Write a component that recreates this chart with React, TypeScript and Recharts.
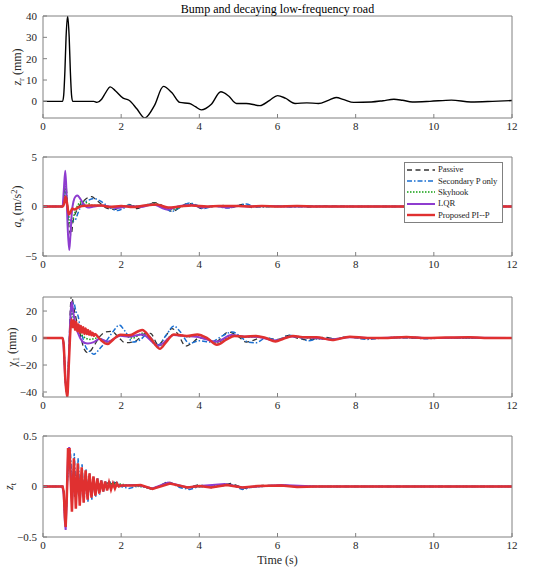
import React from 'react';
import { LineChart, Line, XAxis, YAxis, Legend } from 'recharts';

type Pair = [number, number];

const timeTicks = [0, 2, 4, 6, 8, 10, 12];
const chartTitle = 'Bump and decaying low-frequency road';
const seriesNames = ['Passive', 'Secondary P only', 'Skyhook', 'LQR', 'Proposed PI--P'];

// road input z_r (mm)
const roadProfile: Pair[] = [
  [0, 0], [0.5, 0], [0.53, 3], [0.56, 14], [0.59, 30], [0.63, 40], [0.67, 30], [0.7, 14], [0.73, 3], [0.76, 0],
  [1.3, 0], [1.38, -0.5], [1.5, 1], [1.6, 4], [1.72, 6.8], [1.85, 5], [2.05, 1.5], [2.2, 0.5], [2.4, -3.5],
  [2.6, -7.8], [2.85, -2], [3.08, 7], [3.3, 4], [3.5, -0.5], [3.75, -1], [3.9, -2.5], [4.05, -4], [4.3, -1.5],
  [4.55, 4.5], [4.75, 2.5], [4.95, -1], [5.2, -1], [5.55, -2], [5.8, 0.5], [6.0, 2.7], [6.2, 1.5], [6.45, -1],
  [6.75, -0.7], [7.05, -1], [7.3, 0.5], [7.5, 1.8], [7.7, 0.8], [7.95, -0.5], [8.4, -0.3], [8.7, 0.3], [8.98, 1],
  [9.2, 0.5], [9.45, -0.3], [9.9, 0], [10.45, 0.6], [10.95, -0.3], [11.5, 0], [12, 0.4],
];

// body acceleration a_s (m/s^2)
const accPassive: Pair[] = [
  [0, 0], [0.5, 0], [0.54, 1.2], [0.58, 2.5], [0.62, 0.5], [0.67, -2.2], [0.72, -2.9], [0.77, -1.5], [0.85, -0.5],
  [0.95, 0.2], [1.05, 0.6], [1.15, 0.9], [1.25, 1.0], [1.35, 0.7], [1.5, 0.2], [1.65, -0.2], [1.8, -0.3], [2.0, -0.1],
  [2.2, 0.2], [2.4, -0.2], [2.6, 0.1], [2.85, 0.4], [3.05, 0.1], [3.3, -0.5], [3.5, -0.1], [3.7, 0.3], [3.9, 0.1],
  [4.05, -0.2], [4.3, 0.05], [4.6, 0.1], [4.8, -0.1], [5.1, 0.2], [5.35, -0.1], [5.6, 0.05], [6.0, 0], [6.4, 0.05],
  [6.8, -0.05], [7.2, 0.05], [8, 0], [12, 0],
];
const accSecondary: Pair[] = [
  [0, 0], [0.5, 0], [0.54, 0.8], [0.58, 1.5], [0.62, 0.3], [0.67, -1.2], [0.75, -1.5], [0.82, -1.4], [0.9, -0.6],
  [1.0, 0.2], [1.15, 0.6], [1.3, 0.8], [1.45, 0.6], [1.6, 0.2], [1.75, -0.2], [1.9, -0.4], [2.05, -0.2], [2.2, 0.15],
  [2.4, 0], [2.6, 0.1], [2.85, 0.3], [3.1, -0.1], [3.3, -0.5], [3.5, -0.1], [3.75, 0.35], [3.95, 0.1], [4.1, -0.2],
  [4.4, 0.05], [4.7, -0.15], [5.0, 0.1], [5.2, 0.25], [5.4, 0], [5.7, -0.05], [6.0, 0.05], [6.4, -0.05], [6.8, 0.05],
  [7.5, 0], [12, 0],
];
const accSkyhook: Pair[] = [
  [0, 0], [0.5, 0], [0.54, 1.0], [0.58, 2.0], [0.62, 0.3], [0.67, -1.5], [0.72, -1.8], [0.8, -0.8], [0.9, 0.2],
  [1.0, 0.5], [1.1, 0.4], [1.3, 0.1], [1.5, 0.1], [1.8, -0.1], [2.2, 0.1], [2.5, 0], [2.85, 0.3], [3.3, -0.3],
  [3.75, 0.2], [4.1, -0.1], [4.5, 0.05], [5.0, 0.05], [5.5, 0], [12, 0],
];
const accLqr: Pair[] = [
  [0, 0], [0.5, 0], [0.53, 1.5], [0.57, 3.6], [0.6, 1.5], [0.63, -2], [0.67, -4.4], [0.7, -3], [0.74, -0.5],
  [0.78, 0.5], [0.83, 1.0], [0.88, 1.1], [0.95, 0.8], [1.05, 0.2], [1.15, -0.1], [1.3, 0], [1.5, 0.1], [1.7, 0],
  [1.9, -0.15], [2.2, 0.05], [2.5, -0.05], [2.8, 0.2], [3.2, -0.3], [3.5, 0.05], [3.8, 0.15], [4.1, -0.1],
  [4.4, 0.05], [4.7, -0.1], [5.0, 0.05], [5.3, 0], [5.7, 0.05], [6.2, 0], [7, 0], [12, 0],
];
const accProposed: Pair[] = [
  [0, 0], [0.5, 0], [0.54, 0.3], [0.58, 1.0], [0.62, 0.2], [0.66, -0.8], [0.7, -0.6], [0.75, -0.2], [0.8, -0.3],
  [0.9, -0.1], [1.0, 0.05], [1.2, 0.1], [1.5, 0.1], [1.7, -0.05], [2.0, 0.05], [2.3, -0.05], [2.6, 0.1], [2.9, 0.2],
  [3.2, -0.1], [3.5, 0], [3.8, 0.1], [4.2, 0], [4.5, 0.05], [5.0, 0.05], [5.3, 0], [5.6, 0.05], [6, 0], [6.5, 0.05],
  [7, 0], [12, 0],
];

// displacement x_1 (mm)
const dispPassive: Pair[] = [
  [0, 0], [0.5, 0], [0.53, -5], [0.57, -30], [0.62, -41], [0.66, -12], [0.7, 22], [0.73, 32], [0.78, 24], [0.85, 14],
  [0.95, 3], [1.05, -8], [1.15, -11], [1.3, -6], [1.45, 1], [1.6, 4.5], [1.75, 5], [1.95, 0], [2.1, -3.5],
  [2.35, -2.5], [2.6, 3], [2.75, 3.5], [2.95, -5], [3.15, 2], [3.3, 7], [3.45, 3], [3.65, -6], [3.8, -4], [4.0, 0],
  [4.2, -1], [4.4, -3], [4.75, 4.5], [5.0, 1], [5.2, -3], [5.4, -1.5], [5.6, 0.5], [6.0, -1], [6.3, 2], [6.5, 0],
  [6.8, -1.5], [7.2, 0.5], [7.5, -0.5], [7.8, 0.8], [8.2, -0.5], [8.5, 0], [9, 0.3], [9.6, -0.2], [10.5, 0.1], [12, 0],
];
const dispSecondary: Pair[] = [
  [0, 0], [0.5, 0], [0.53, -5], [0.57, -30], [0.62, -41], [0.66, -15], [0.71, 12], [0.76, 24], [0.79, 26], [0.84, 20],
  [0.9, 16], [0.95, 8], [1.02, 0], [1.1, -7], [1.2, -10], [1.3, -12], [1.45, -8], [1.6, -3], [1.8, 5], [1.95, 9.6],
  [2.1, 5], [2.3, -3], [2.5, -1], [2.65, 2.5], [2.95, -5], [3.15, 2], [3.35, 9], [3.5, 5], [3.75, -4], [4.0, -2],
  [4.3, -3], [4.55, 1], [4.85, 4.5], [5.05, 1], [5.25, -3], [5.45, -3.5], [5.7, 0], [6.0, -1.5], [6.3, 2], [6.55, 0.5],
  [6.8, -2], [7.1, 0], [7.5, -0.5], [7.8, 1], [8.3, -1], [8.7, 0], [9.3, 0.3], [9.8, -0.5], [10.3, 0], [12, 0],
];
const dispSkyhook: Pair[] = [
  [0, 0], [0.5, 0], [0.53, -5], [0.57, -30], [0.62, -42], [0.66, -15], [0.7, 12], [0.73, 22], [0.78, 14], [0.85, 8],
  [1.0, 2], [1.2, -1], [1.4, 0], [1.65, -3], [2.0, 2.5], [2.3, 0], [2.55, 3.5], [2.95, -6], [3.35, 2.5], [3.7, 1],
  [4.0, 2], [4.45, -3.5], [4.85, 2], [5.2, 0.5], [5.5, 1], [5.95, -2], [6.35, 1.5], [6.8, 0], [7.4, -1], [7.85, 0.8],
  [8.3, 0], [9.3, 0.5], [10, 0], [12, 0],
];
const dispLqr: Pair[] = [
  [0, 0], [0.5, 0], [0.52, -3], [0.57, -30], [0.62, -42], [0.66, -15], [0.7, 15], [0.73, 27], [0.78, 18], [0.85, 8],
  [0.95, 0], [1.05, -3.5], [1.15, -4], [1.3, -3], [1.45, -0.5], [1.65, -2.7], [1.98, 1.7], [2.2, 1], [2.54, 2.7],
  [2.95, -5.7], [3.35, 2.2], [3.6, 1.5], [3.92, 1], [4.45, -2.7], [4.82, 2.2], [5.2, 1], [5.5, 0.8], [5.95, -1.8],
  [6.35, 1.2], [6.8, 0.3], [7.4, -1], [7.85, 0.6], [8.3, 0], [9.3, 0.5], [10, 0], [10.9, 0.3], [12, 0],
];
const dispProposed: Pair[] = [
  [0, 0], [0.5, 0], [0.53, -5], [0.57, -30], [0.62, -44], [0.66, -20], [0.7, 5], [0.73, 14], [0.76, 8], [0.79, 13],
  [0.82, 6], [0.85, 12], [0.88, 5], [0.91, 10], [0.94, 4], [0.97, 9], [1.0, 4], [1.03, 8], [1.06, 3], [1.09, 7],
  [1.12, 3], [1.15, 6], [1.18, 2.5], [1.21, 5], [1.24, 2], [1.27, 4], [1.3, 1.5], [1.33, 3], [1.4, 1], [1.5, -2],
  [1.65, -4.5], [1.8, -1], [1.98, 2.5], [2.2, 2], [2.54, 6], [2.75, 0], [2.99, -8], [3.15, -3], [3.35, 2.7],
  [3.68, 1.5], [3.95, 2.7], [4.2, 0], [4.45, -5], [4.7, -1], [4.9, 1.5], [5.15, 1], [5.45, 1.5], [5.7, 0],
  [5.95, -2.5], [6.15, -0.5], [6.4, 1.5], [6.7, 0.5], [7.0, 0.6], [7.4, -1.5], [7.85, 1], [8.3, 0], [8.7, 0],
  [9.3, 0.8], [9.8, 0], [10.3, 0.3], [10.9, 0.5], [11.5, 0], [12, 0],
];

// tyre deflection z_t
const tyrePassive: Pair[] = [
  [0, 0], [0.5, 0], [0.53, -0.05], [0.56, -0.3], [0.58, -0.38], [0.61, -0.1], [0.65, 0.3], [0.69, 0.3], [0.72, 0],
  [0.76, 0.1], [0.81, -0.1], [0.86, 0.12], [0.91, -0.08], [0.96, 0.08], [1.01, -0.05], [1.1, 0.05], [1.2, -0.02],
  [1.4, 0.02], [1.6, 0.03], [1.8, 0.05], [2.0, 0], [2.4, 0.02], [2.8, -0.03], [3.2, 0.05], [3.6, -0.02], [4.0, 0.02],
  [4.3, -0.01], [4.8, 0.03], [5.2, -0.02], [5.6, 0.01], [6.2, 0.01], [7, 0], [12, 0],
];
const tyreSecondary: Pair[] = [
  [0, 0], [0.5, 0], [0.53, -0.05], [0.56, -0.3], [0.58, -0.38], [0.61, -0.1], [0.65, 0.3], [0.7, 0.36], [0.75, -0.05],
  [0.8, 0.33], [0.85, -0.12], [0.9, 0.28], [0.95, -0.15], [1.0, 0.22], [1.05, -0.16], [1.1, 0.17], [1.15, -0.15],
  [1.2, 0.13], [1.25, -0.13], [1.3, 0.1], [1.35, -0.1], [1.4, 0.08], [1.45, -0.08], [1.5, 0.06], [1.55, -0.05],
  [1.6, 0.05], [1.65, -0.03], [1.7, 0.06], [1.75, 0], [1.8, 0.05], [1.85, 0.01], [1.9, 0.04], [2.0, 0], [2.2, -0.02],
  [2.5, 0.01], [2.8, -0.02], [3.25, 0.04], [3.5, -0.01], [3.75, -0.03], [4.0, 0], [4.3, -0.01], [4.8, 0.02],
  [5.1, -0.03], [5.4, 0], [6.0, 0.01], [6.5, 0], [7, 0], [12, 0],
];
const tyreSkyhook: Pair[] = [
  [0, 0], [0.5, 0], [0.53, -0.05], [0.56, -0.3], [0.58, -0.39], [0.61, -0.1], [0.65, 0.33], [0.69, 0.33], [0.74, -0.1],
  [0.79, 0.2], [0.84, -0.12], [0.89, 0.13], [0.94, -0.08], [0.99, 0.08], [1.05, -0.04], [1.15, 0.04], [1.3, 0],
  [1.8, 0.03], [2.3, 0.01], [2.8, -0.02], [3.2, 0.035], [3.7, -0.01], [4.7, 0.02], [5.1, -0.01], [6.1, 0.01],
  [7, 0], [12, 0],
];
const tyreLqr: Pair[] = [
  [0, 0], [0.5, 0], [0.53, -0.08], [0.56, -0.35], [0.58, -0.43], [0.61, -0.1], [0.64, 0.3], [0.67, 0.39], [0.7, 0.2],
  [0.74, -0.15], [0.79, 0.12], [0.84, -0.08], [0.89, 0.08], [0.94, -0.05], [0.99, 0.04], [1.04, -0.02], [1.1, 0.01],
  [1.5, 0], [2.0, 0.01], [2.4, 0.015], [2.8, -0.02], [3.2, 0.04], [3.7, -0.01], [4.0, 0.005], [4.65, 0.025],
  [5.1, -0.01], [6.1, 0.015], [7, 0], [12, 0],
];
const tyreProposed: Pair[] = [
  [0, 0], [0.5, 0], [0.53, -0.05], [0.56, -0.3], [0.58, -0.4], [0.61, -0.1], [0.64, 0.37], [0.68, 0.37], [0.71, 0.05],
  [0.74, -0.25], [0.79, 0.28], [0.84, -0.22], [0.89, 0.23], [0.94, -0.19], [0.99, 0.19], [1.04, -0.16],
  [1.09, 0.16], [1.14, -0.13], [1.19, 0.13], [1.24, -0.11], [1.29, 0.1], [1.34, -0.09], [1.39, 0.08],
  [1.44, -0.07], [1.49, 0.06], [1.54, -0.05], [1.59, 0.05], [1.64, -0.04], [1.69, 0.04], [1.74, -0.03],
  [1.79, 0.03], [1.84, -0.02], [1.89, 0.03], [1.94, 0], [2.0, 0.01], [2.3, 0.01], [2.5, 0.015],
  [2.8, -0.025], [3.25, 0.03], [3.7, -0.01], [4.0, 0.005], [4.3, -0.01], [4.7, 0.015], [5.1, -0.01], [5.5, 0.005],
  [6.1, 0.01], [6.5, -0.005], [7, 0], [12, 0],
];

const lineStyles = [
  { color: '#333333', width: 1.3, dash: '5 3.5' },
  { color: '#1a6fd1', width: 1.5, dash: '5 2 1.5 2' },
  { color: '#10a010', width: 1.5, dash: '1.5 1.5' },
  { color: '#8e3ccf', width: 2, dash: undefined },
  { color: '#e03030', width: 2.5, dash: undefined },
];

const font = '"Liberation Serif", "Times New Roman", serif';
const boxColor = '#808080';
const textColor = '#262626';

const toPoints = (pairs: Pair[]) => pairs.map(([t, v]) => ({ t, v }));
const minus = (v: number) => String(v).replace('-', '\u2212');

const sub = (s: string) => [
  <tspan key="s" dy={3} fontSize={8.5}>{s}</tspan>,
];

const AxisTitle = ({ viewBox, x, children }: any) => {
  const cy = viewBox.y + viewBox.height / 2;
  return (
    <text x={x} y={cy} transform={`rotate(-90 ${x} ${cy})`} textAnchor="middle" fontSize={12}
      fill={textColor} fontFamily={font}>
      {children}
    </text>
  );
};

const LegendBox = () => (
  <div style={{
    border: `1px solid ${boxColor}`, background: '#fff', width: 97, height: 58, boxSizing: 'content-box',
    fontFamily: font, fontSize: 8.7, letterSpacing: -0.1, color: textColor, paddingTop: 1, textAlign: 'left',
  }}>
    {seriesNames.map((name, i) => (
      <div key={name} style={{ display: 'flex', alignItems: 'center', justifyContent: 'flex-start', height: 11.4, lineHeight: '11px' }}>
        <svg width={28} height={8} style={{ marginLeft: 2, marginRight: 3, flexShrink: 0 }}>
          <line x1={0} y1={4} x2={28} y2={4} stroke={lineStyles[i].color}
            strokeWidth={Math.min(lineStyles[i].width, 2.4)} strokeDasharray={lineStyles[i].dash} />
        </svg>
        <span style={{ whiteSpace: 'nowrap' }}>{name}</span>
      </div>
    ))}
  </div>
);

interface PanelProps {
  top: number;
  plotHeight: number;
  domain: [number, number];
  yTicks: number[];
  series: Pair[][];
  yLabel: React.ReactNode;
  labelX: number;
  legend?: boolean;
  xLabel?: string;
  curve?: 'monotone' | 'linear';
}

const tickStyle = { fontSize: 11, fill: textColor, fontFamily: font };

const Panel = ({ top, plotHeight, domain, yTicks, series, yLabel, labelX, legend, xLabel, curve = 'monotone' }: PanelProps) => {
  const axisH = xLabel ? 36 : 22;
  const height = 16 + plotHeight + axisH;
  return (
    <div style={{ position: 'absolute', left: 0, top }}>
      <LineChart width={550} height={height} margin={{ top: 15, right: 37, bottom: 0, left: 0 }}>
        <XAxis dataKey="t" type="number" domain={[0, 12]} ticks={timeTicks} allowDataOverflow
          height={axisH} tickSize={-4} tickMargin={8} tick={tickStyle} stroke={boxColor}
          label={xLabel ? { value: xLabel, position: 'insideBottom', offset: 9, fontSize: 12, fill: textColor, fontFamily: font } : undefined} />
        <XAxis xAxisId="top" orientation="top" type="number" domain={[0, 12]} ticks={timeTicks}
          height={1} tickSize={-4} tick={false} stroke={boxColor} />
        <YAxis type="number" domain={domain} ticks={yTicks} allowDataOverflow width={43}
          tickSize={-4} tickMargin={10} tick={tickStyle} tickFormatter={minus}
          stroke={boxColor} interval={0}
          label={{ content: (p: any) => <AxisTitle viewBox={p.viewBox} x={labelX}>{yLabel}</AxisTitle> }} />
        <YAxis yAxisId="right" orientation="right" type="number" domain={domain} ticks={yTicks}
          allowDataOverflow width={1} tickSize={-4} tick={false} stroke={boxColor} interval={0} />
        {legend && (
          <Legend layout="horizontal" align="center" verticalAlign="middle" content={() => <LegendBox />}
            wrapperStyle={{ position: 'absolute', left: 404, top: 21, width: 99, height: 60 }} />
        )}
        {series.map((s, i) => {
          const st = lineStyles[i];
          return (
            <Line key={i} data={toPoints(s)} dataKey="v" type={curve} dot={false} activeDot={false}
              isAnimationActive={false} stroke={st.color} strokeWidth={st.width}
              strokeDasharray={st.dash} name={seriesNames[i]} />
          );
        })}
      </LineChart>
    </div>
  );
};

export default function App() {
  return (
    <div style={{ position: 'absolute', left: 0, top: 0, width: 550, height: 572, background: '#fff', fontFamily: font }}>
      <style>{`svg text, svg tspan { font-family: ${font}; }`}</style>
      <div style={{ position: 'absolute', left: 0, top: 0 }}>
        <LineChart width={550} height={140} margin={{ top: 15, right: 37, bottom: 0, left: 0 }}>
          <XAxis dataKey="t" type="number" domain={[0, 12]} ticks={timeTicks} allowDataOverflow
            height={22} tickSize={-4} tickMargin={8} tick={tickStyle} stroke={boxColor} />
          <XAxis xAxisId="top" orientation="top" type="number" domain={[0, 12]} ticks={timeTicks}
            height={1} tickSize={-4} tick={false} stroke={boxColor}
            label={{ value: chartTitle, position: 'top', offset: 2, fontSize: 12, fill: '#000', fontFamily: font }} />
          <YAxis type="number" domain={[-7.8, 40]} ticks={[0, 10, 20, 30, 40]} allowDataOverflow width={43}
            tickSize={-4} tickMargin={10} tick={tickStyle} stroke={boxColor} interval={0}
            label={{
              content: (p: any) => (
                <AxisTitle viewBox={p.viewBox} x={21}>
                  <tspan fontStyle="italic">z</tspan>{sub('r')}<tspan dy={-3}> (mm)</tspan>
                </AxisTitle>
              ),
            }} />
          <YAxis yAxisId="right" orientation="right" type="number" domain={[-7.8, 40]} ticks={[0, 10, 20, 30, 40]}
            allowDataOverflow width={1} tickSize={-4} tick={false} stroke={boxColor} interval={0} />
          <Line data={toPoints(roadProfile)} dataKey="v" type="monotone" dot={false} activeDot={false}
            isAnimationActive={false} stroke="#000000" strokeWidth={1.4} />
        </LineChart>
      </div>
      <Panel top={141} plotHeight={99} domain={[-5, 5]} yTicks={[-5, 0, 5]}
        series={[accPassive, accSecondary, accSkyhook, accLqr, accProposed]} legend labelX={21}
        yLabel={<>
          <tspan fontStyle="italic">a</tspan>{sub('s')}<tspan dy={-3}> (m/s</tspan>
          <tspan dy={-4} fontSize={8.5}>2</tspan><tspan dy={4}>)</tspan>
        </>} />
      <Panel top={281} plotHeight={100} domain={[-43.7, 30.4]} yTicks={[-40, -20, 0, 20]}
        series={[dispPassive, dispSecondary, dispSkyhook, dispLqr, dispProposed]} labelX={16}
        yLabel={<>
          <tspan>χ</tspan>{sub('1')}<tspan dy={-3}> (mm)</tspan>
        </>} />
      <Panel top={420} plotHeight={101} domain={[-0.5, 0.5]} yTicks={[-0.5, 0, 0.5]} curve="linear"
        series={[tyrePassive, tyreSecondary, tyreSkyhook, tyreLqr, tyreProposed]} labelX={13} xLabel="Time (s)"
        yLabel={<>
          <tspan fontStyle="italic">z</tspan>{sub('t')}
        </>} />
    </div>
  );
}
